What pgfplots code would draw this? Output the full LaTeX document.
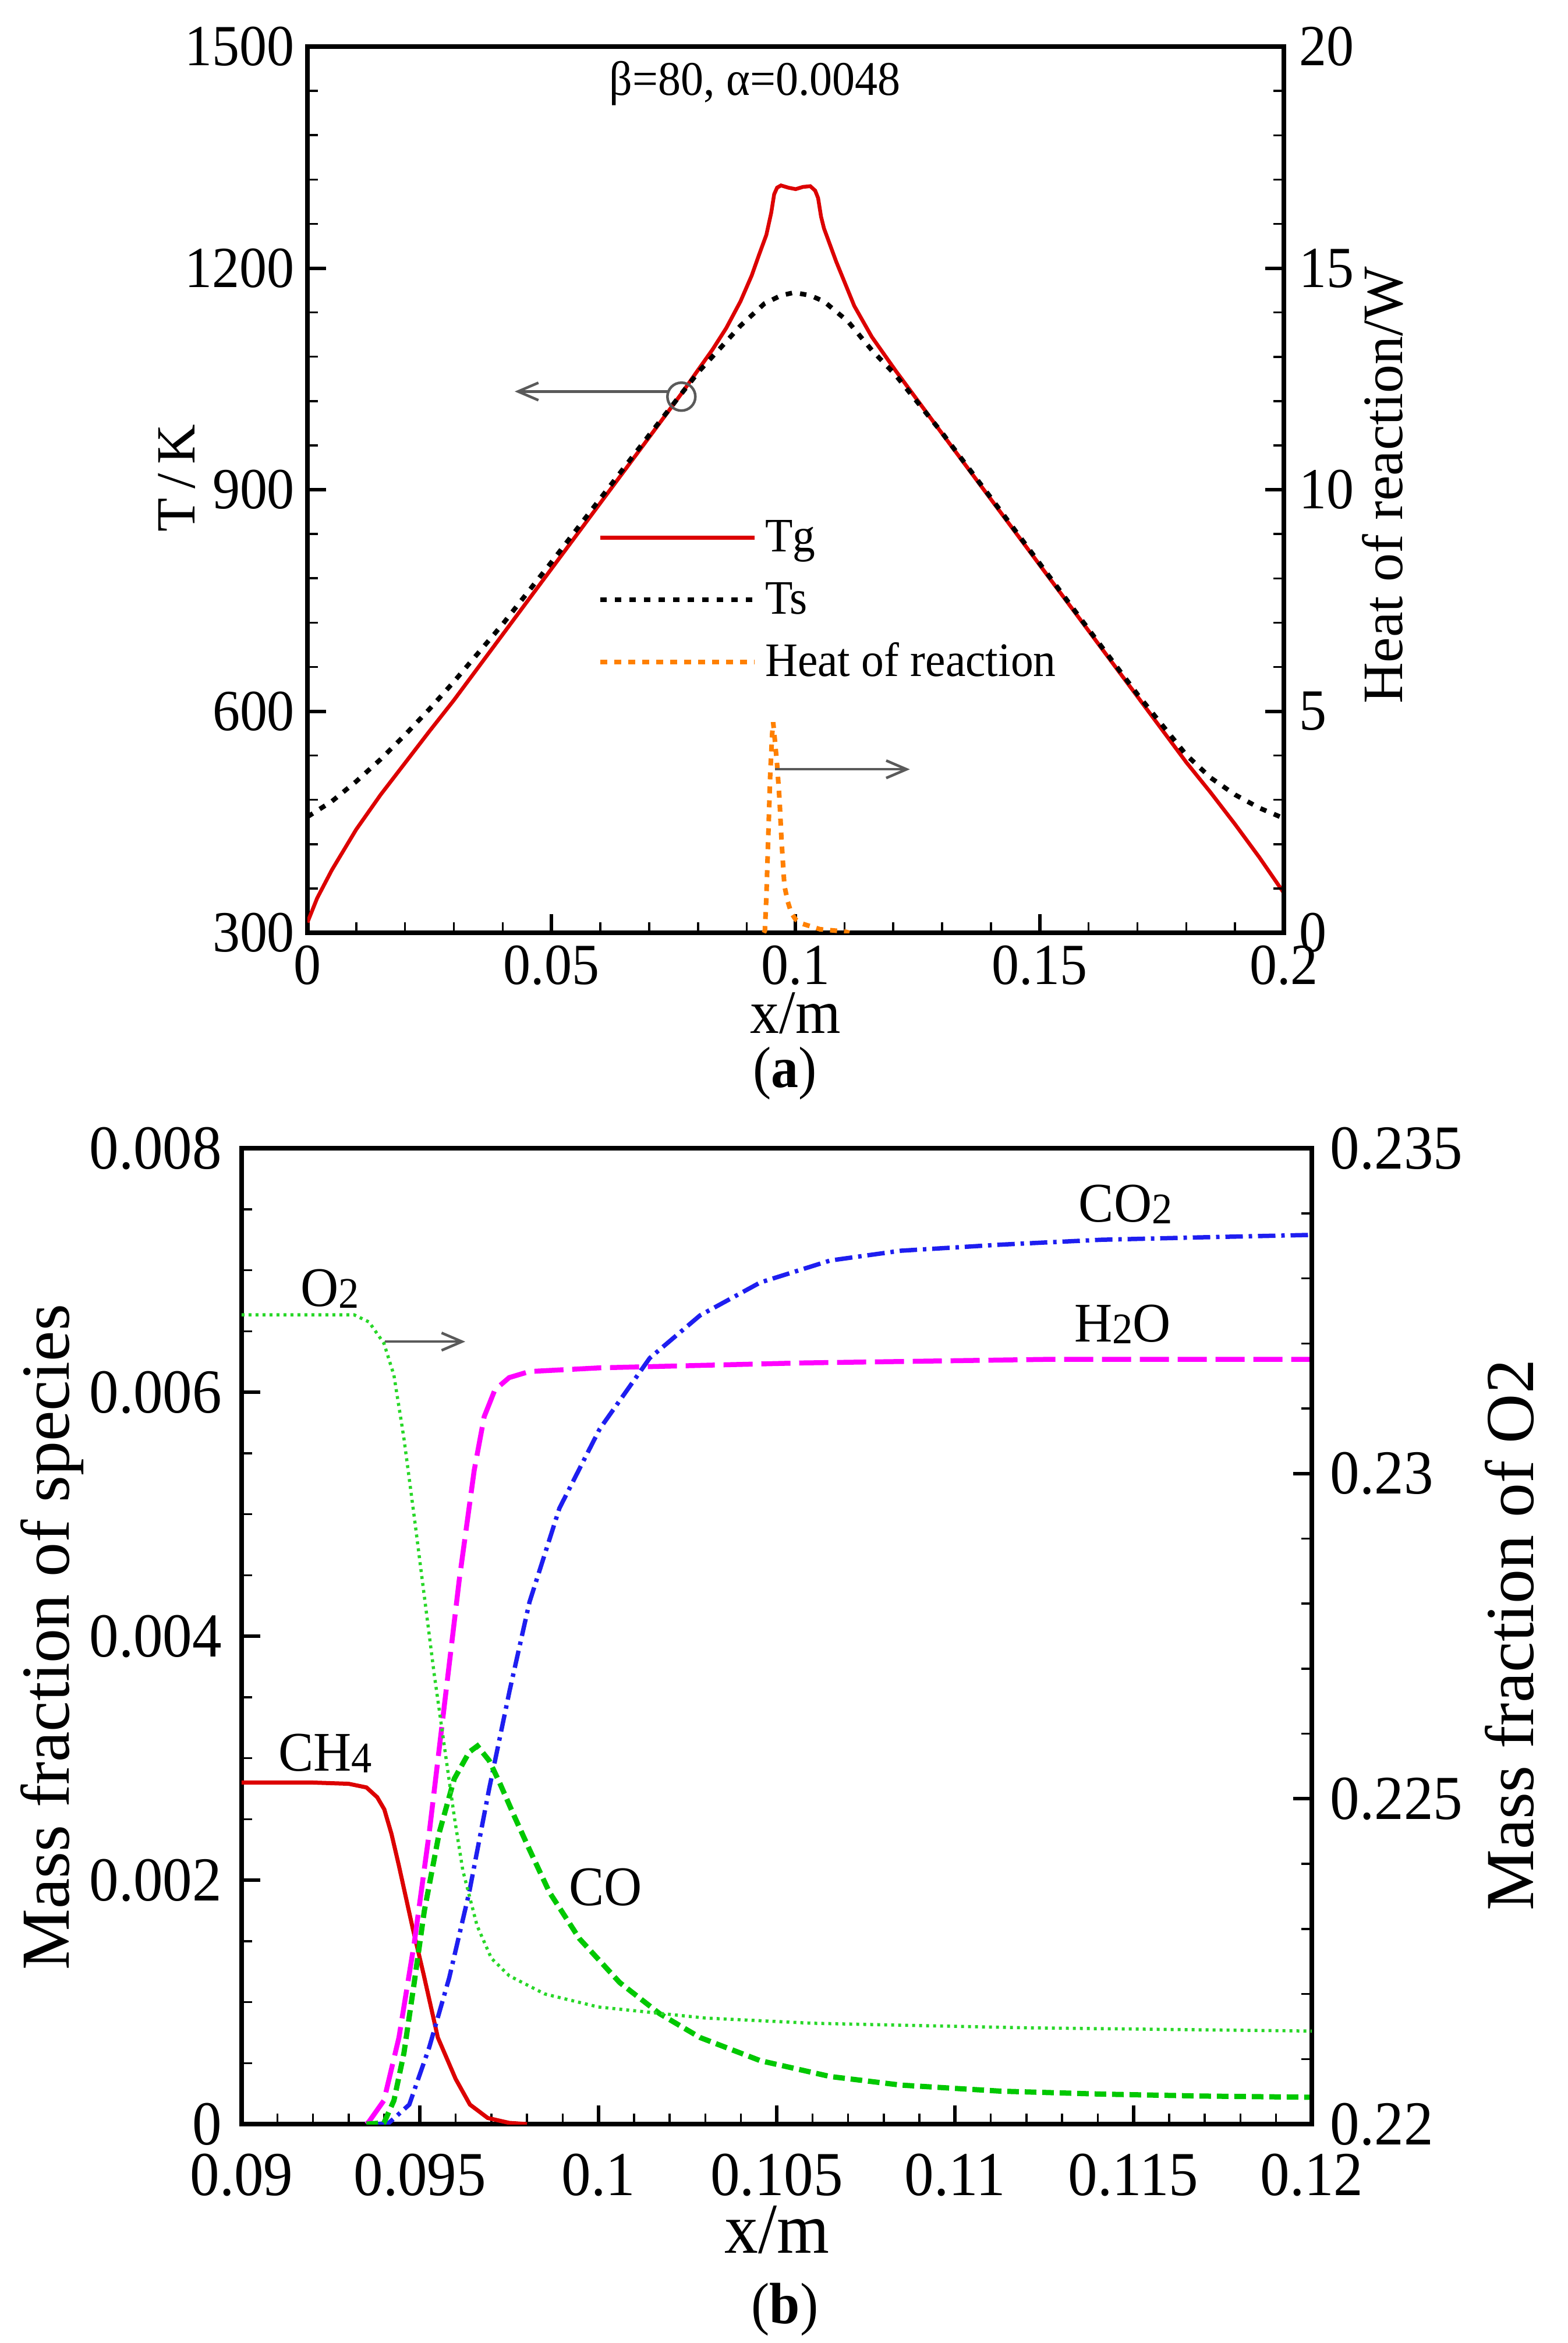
\documentclass[border=0pt]{standalone}
\usepackage{pgfplots}
\pgfplotsset{compat=1.18}
\usepackage{fontspec}
\setmainfont{Liberation Serif}[FakeStretch=0.94]
\newfontfamily\rotfont{Liberation Serif}
\usetikzlibrary{arrows.meta}

\definecolor{tgred}{RGB}{220,0,0}
\definecolor{hrorange}{RGB}{255,128,0}
\definecolor{h2omag}{RGB}{255,0,255}
\definecolor{co2blue}{RGB}{30,30,240}
\definecolor{cogreen}{RGB}{0,200,0}
\definecolor{o2green}{RGB}{40,215,40}
\definecolor{arrgray}{RGB}{90,90,90}

\pgfplotsset{
 tecplot/.style={
  scale only axis, tick align=inside,
  axis line style={line width=0.75pt},
  major tick length=3.2pt, minor tick length=1.8pt,
  major tick style={line width=0.6pt, black},
  minor tick style={line width=0.35pt, black},
  scaled ticks=false,
 }
}

\begin{document}
\begin{tikzpicture}[x=1pt,y=1pt]
\useasboundingbox (0,0) rectangle (269.3,-402.4);

% ---------------- panel (a), left axis ----------------
\begin{axis}[tecplot,
 at={(52.8pt,-160.2pt)}, anchor=south west, width=167.7pt, height=152.2pt,
 xmin=0, xmax=0.2, ymin=300, ymax=1500,
 xtick={0,0.05,0.1,0.15,0.2}, xticklabels={0,0.05,0.1,0.15,0.2},
 minor x tick num=4,
 ytick={300,600,900,1200,1500}, yticklabels={300,600,900,1200,1500},
 minor y tick num=4,
 xtick pos=bottom, ytick pos=left,
 tick label style={font=\fontsize{10}{12}\selectfont},
 xticklabel style={inner sep=2pt},
 yticklabel style={inner sep=2pt},
 xlabel={x/m},
 xlabel style={font=\fontsize{10.6}{13}\selectfont, at={(axis description cs:0.5,-0.0907)}, anchor=center},
 ylabel={T\,/\,K},
 ylabel style={font=\rotfont\fontsize{9.5}{12}\selectfont, at={(axis description cs:-0.134,0.513)}, anchor=center},
 legend cell align=left,
 legend style={draw=none, fill=none, at={(axis description cs:0.2976,0.467)}, anchor=north west,
   inner sep=0pt, outer sep=0pt, row sep=3.5pt, column sep=1.4pt,
   font=\fontsize{8.25}{9}\selectfont, nodes={inner sep=0pt, text height=5.6pt, text depth=1.6pt}},
 legend image code/.code={\draw[#1] (0pt,0.4pt) -- (26.5pt,0.4pt);},
]
\addplot[tgred, line width=0.65pt] table {
x y
0 314
0.002 347
0.005 385
0.010 440
0.015 487
0.020 530
0.025 573
0.030 615
0.040 704
0.050 793
0.060 882
0.070 971
0.0766 1030
0.0800 1062
0.0830 1090
0.0858 1119
0.0887 1155
0.0910 1190
0.0925 1218
0.0940 1245
0.0950 1275
0.0956 1300
0.0962 1309
0.0970 1312
0.0985 1309
0.1000 1307
0.1015 1310
0.1030 1311
0.1040 1305
0.1046 1295
0.1052 1270
0.1058 1254
0.1083 1209
0.1120 1149
0.1156 1107
0.1205 1061
0.1300 976
0.1400 887
0.1500 798
0.1600 709
0.1700 620
0.1800 531
0.1850 490
0.1900 447
0.1950 402
0.2000 354
};
\addlegendentry{Tg}
\addplot[black, line width=0.8pt, dash pattern=on 1.1pt off 1.4pt] table {
x y
0 457
0.005 478
0.010 505
0.015 535
0.020 568
0.025 603
0.030 640
0.040 718
0.050 802
0.060 888
0.070 974
0.0766 1030
0.0803 1061
0.0846 1092
0.0887 1122
0.0936 1152
0.0970 1163
0.0997 1167
0.1030 1163
0.1058 1155
0.1107 1128
0.1156 1089
0.1205 1055
0.1300 977
0.1400 889
0.1500 800
0.1600 711
0.1700 623
0.1750 582
0.1800 541
0.1850 510
0.1900 487
0.1950 469
0.2000 455
};
\addlegendentry{Ts}
\addlegendimage{hrorange, line width=0.8pt, dash pattern=on 1.2pt off 1.2pt}
\addlegendentry{Heat of reaction}
\draw[arrgray, line width=0.45pt] (axis cs:0.0766,1026) circle[radius=2.4pt];
\draw[arrgray, line width=0.45pt, -{Straight Barb[length=3.5pt,width=3pt]}] (axis cs:0.0738,1033) -- (axis cs:0.04246,1033);
\node[font=\fontsize{8.3}{10}\selectfont] at (axis cs:0.0917,1450) {β=80, α=0.0048};
\end{axis}

% ---------------- panel (a), right axis ----------------
\begin{axis}[tecplot,
 at={(52.8pt,-160.2pt)}, anchor=south west, width=167.7pt, height=152.2pt,
 xmin=0, xmax=0.2, ymin=0, ymax=20,
 axis x line=none, axis y line*=right,
 ytick={0,5,10,15,20}, yticklabels={0,5,10,15,20},
 minor y tick num=4, ytick pos=right,
 tick label style={font=\fontsize{10}{12}\selectfont},
 yticklabel style={inner sep=2.5pt},
 ylabel={Heat of reaction/W},
 ylabel style={font=\rotfont\fontsize{9.8}{12}\selectfont, at={(axis description cs:1.101,0.505)}, anchor=center},
]
\addplot[hrorange, line width=0.8pt, dash pattern=on 1.2pt off 1.2pt] table {
x y
0.0935 0
0.0937 0.05
0.0940 0.8
0.0944 2.2
0.0948 3.6
0.0952 4.5
0.0954 4.75
0.0957 4.4
0.0962 3.8
0.0967 3.0
0.0971 2.1
0.0977 1.06
0.0984 0.7
0.0991 0.45
0.1000 0.3
0.1015 0.2
0.1050 0.08
0.1100 0.03
0.1110 0
};
\draw[arrgray, line width=0.45pt, -{Straight Barb[length=3.5pt,width=3pt]}] (axis cs:0.0958,3.69) -- (axis cs:0.1234,3.69);
\end{axis}

% ---------------- panel (b), left axis ----------------
\begin{axis}[tecplot,
 at={(41.5pt,-364.8pt)}, anchor=south west, width=183.8pt, height=167.6pt,
 xmin=0.09, xmax=0.12, ymin=0, ymax=0.008,
 xtick={0.09,0.095,0.1,0.105,0.11,0.115,0.12},
 xticklabels={0.09,0.095,0.1,0.105,0.11,0.115,0.12},
 minor x tick num=4,
 ytick={0,0.002,0.004,0.006,0.008}, yticklabels={0,0.002,0.004,0.006,0.008},
 minor y tick num=3,
 xtick pos=bottom, ytick pos=left,
 tick label style={font=\fontsize{10.75}{12}\selectfont},
 xticklabel style={inner sep=4.9pt},
 yticklabel style={inner sep=3.2pt},
 xlabel={x/m},
 xlabel style={font=\fontsize{12.3}{14}\selectfont, at={(axis description cs:0.5005,-0.1086)}, anchor=center},
 ylabel={Mass fraction of species},
 ylabel style={font=\rotfont\fontsize{11.8}{13}\selectfont, at={(axis description cs:-0.177,0.499)}, anchor=center},
]
% CH4
\addplot[tgred, line width=0.7pt] table {
x y
0.0900 0.00280
0.0920 0.00280
0.0930 0.00279
0.0935 0.00276
0.0938 0.00268
0.0940 0.00258
0.0942 0.00238
0.0944 0.00213
0.0948 0.00160
0.0951 0.00123
0.0955 0.00071
0.0960 0.00037
0.0964 0.00016
0.0969 0.00005
0.0975 0.00001
0.0980 0
};
% H2O
\addplot[h2omag, line width=0.85pt, dash pattern=on 5pt off 1.5pt] table {
x y
0.0935 0
0.09357 0.00002
0.09399 0.000194
0.09441 0.00071
0.09484 0.001486
0.09526 0.00239
0.09568 0.003425
0.0961 0.00446
0.09652 0.00536
0.09680 0.00580
0.09710 0.00602
0.09750 0.00612
0.09807 0.00617
0.10004 0.00620
0.10566 0.00624
0.11269 0.00627
0.1200 0.00627
};
% CO2
\addplot[co2blue, line width=0.75pt, dash pattern=on 3pt off 1pt on 0.6pt off 1pt] table {
x y
0.0938 0
0.09413 0.00001
0.0947 0.00016
0.09526 0.00063
0.09582 0.00120
0.09638 0.00190
0.09694 0.00275
0.09751 0.00355
0.09807 0.00428
0.09891 0.00505
0.10004 0.00570
0.10144 0.00628
0.10285 0.00663
0.10454 0.00690
0.1065 0.00708
0.10847 0.00716
0.11128 0.00721
0.11409 0.00725
0.11691 0.00727
0.1200 0.00729
};
% CO
\addplot[cogreen, line width=0.9pt, dash pattern=on 2pt off 1pt] table {
x y
0.0935 0
0.09399 0.00001
0.09427 0.000194
0.09455 0.000582
0.09484 0.001163
0.09512 0.001745
0.09554 0.00239
0.09596 0.00283
0.09638 0.00305
0.09661 0.00310
0.09694 0.00298
0.09723 0.00280
0.09765 0.00252
0.09807 0.00225
0.09863 0.00190
0.09947 0.00152
0.1006 0.00116
0.10172 0.000905
0.10285 0.00071
0.10454 0.00052
0.1065 0.00039
0.10847 0.00032
0.11128 0.00027
0.11409 0.000246
0.11691 0.00023
0.1200 0.00022
};
\node[font=\fontsize{9.6}{11}\selectfont] at (axis cs:0.11478,0.00754) {CO\raisebox{-0.3pt}{\fontsize{7.5}{8}\selectfont 2}};
\node[font=\fontsize{9.6}{11}\selectfont] at (axis cs:0.1147,0.00656) {H\raisebox{-0.3pt}{\fontsize{7.5}{8}\selectfont 2}O};
\node[font=\fontsize{9.6}{11}\selectfont] at (axis cs:0.09248,0.00685) {O\raisebox{-0.3pt}{\fontsize{7.5}{8}\selectfont 2}};
\node[font=\fontsize{9.6}{11}\selectfont] at (axis cs:0.09234,0.00304) {CH\raisebox{-0.3pt}{\fontsize{7.5}{8}\selectfont 4}};
\node[font=\fontsize{9.6}{11}\selectfont] at (axis cs:0.1002,0.00194) {CO};
\draw[arrgray, line width=0.45pt, -{Straight Barb[length=3.5pt,width=3pt]}] (axis cs:0.09402,0.006415) -- (axis cs:0.09627,0.006415);
\end{axis}

% ---------------- panel (b), right axis ----------------
\begin{axis}[tecplot,
 at={(41.5pt,-364.8pt)}, anchor=south west, width=183.8pt, height=167.6pt,
 xmin=0.09, xmax=0.12, ymin=0.22, ymax=0.235,
 axis x line=none, axis y line*=right,
 ytick={0.22,0.225,0.23,0.235}, yticklabels={0.22,0.225,0.23,0.235},
 minor y tick num=4, ytick pos=right,
 tick label style={font=\fontsize{10.75}{12}\selectfont},
 yticklabel style={inner sep=3pt},
 ylabel={Mass fraction of O2},
 ylabel style={font=\rotfont\fontsize{11.8}{13}\selectfont, at={(axis description cs:1.185,0.501)}, anchor=center},
]
\addplot[o2green, line width=0.55pt, dash pattern=on 0.5pt off 0.7pt] table {
x y
0.0900 0.23244
0.09315 0.23244
0.09357 0.23233
0.09399 0.23200
0.09427 0.23151
0.09455 0.23054
0.09484 0.22933
0.09512 0.22812
0.0954 0.22691
0.09568 0.22582
0.09596 0.22473
0.0962 0.22390
0.0966 0.22305
0.0970 0.22255
0.0975 0.22228
0.0985 0.22200
0.1000 0.22180
0.1030 0.22163
0.1060 0.22155
0.1120 0.22148
0.1200 0.22143
};
\end{axis}

% panel labels
\node[font=\fontsize{10}{12}\selectfont] at (134.8,-184.3) {(\textbf{a})};
\node[font=\fontsize{10}{12}\selectfont] at (134.8,-396.6) {(\textbf{b})};
\end{tikzpicture}
\end{document}
